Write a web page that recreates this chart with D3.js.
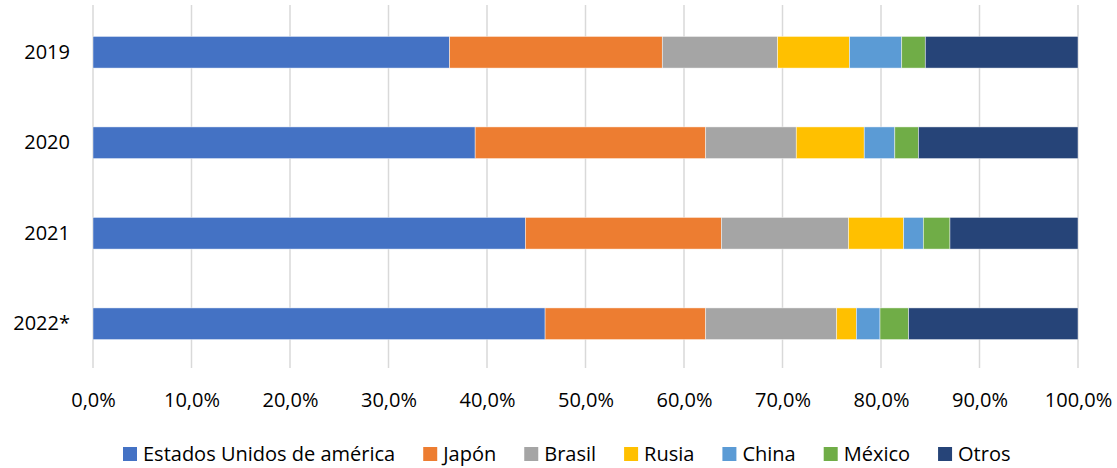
<!DOCTYPE html>
<html>
<head>
<meta charset="utf-8">
<script src="https://cdn.jsdelivr.net/npm/d3@7"></script>
<style>
  body { margin: 0; background: #fff; }
  svg { font-family: "Open Sans", sans-serif; }
</style>
</head>
<body>
<svg width="1117" height="468"></svg>
<script>
// données
let annees = ["2019", "2020", "2021", "2022*"];
let pays = ["Estados Unidos de américa", "Japón", "Brasil", "Rusia", "China", "México", "Otros"];
let couleurs = ["#4472C4", "#ED7D31", "#A5A5A5", "#FFC000", "#5B9BD5", "#70AD47", "#264478"];
let usa = [36.2, 38.8, 43.9, 45.9];
let japon = [21.6, 23.4, 19.9, 16.3];
let brasil = [11.7, 9.2, 12.9, 13.3];
let rusia = [7.3, 6.9, 5.6, 2.0];
let china = [5.3, 3.1, 2.0, 2.4];
let mexico = [2.4, 2.4, 2.7, 2.9];
let otros = [15.5, 16.2, 13.0, 17.2];
let ticks = [0, 10, 20, 30, 40, 50, 60, 70, 80, 90, 100];

let series = [usa, japon, brasil, rusia, china, mexico, otros];

let svg = d3.select("svg");

let x = d3.scaleLinear().domain([0, 100]).range([93, 1078]);
let y = d3.scaleBand().domain(annees).range([7, 369]).paddingInner(0.65).paddingOuter(0.325);

// grille
svg.append("g")
    .selectAll("line")
    .data(ticks)
    .enter()
    .append("line")
    .attr("x1", d => x(d))
    .attr("x2", d => x(d))
    .attr("y1", 5)
    .attr("y2", 368)
    .attr("stroke", "#d9d9d9")
    .attr("stroke-width", 1.5);

// empilement
let lignes = annees.map((a, i) => {
    let r = {annee: a};
    pays.forEach((p, j) => r[p] = series[j][i]);
    return r;
});
let pile = d3.stack().keys(pays)(lignes);

svg.append("g")
    .selectAll("g")
    .data(pile)
    .enter()
    .append("g")
    .attr("fill", (d, i) => couleurs[i])
    .selectAll("rect")
    .data(d => d)
    .enter()
    .append("rect")
    .attr("x", d => x(d[0]))
    .attr("width", d => x(d[1]) - x(d[0]))
    .attr("y", d => y(d.data.annee))
    .attr("height", y.bandwidth())
    .attr("stroke", "#ffffff")
    .attr("stroke-opacity", 0.6)
    .attr("stroke-width", 0.75);

// axe x
let axeX = svg.append("g")
    .attr("transform", "translate(0,368)")
    .call(d3.axisBottom(x).tickValues(ticks).tickSize(0).tickPadding(25)
        .tickFormat(d => d.toFixed(1).replace(".", ",") + "%"));
axeX.select(".domain").remove();
axeX.selectAll("text").attr("font-size", 20).attr("fill", "#000").attr("font-family", "'Open Sans', sans-serif");

// axe y
let axeY = svg.append("g")
    .attr("transform", "translate(82,0)")
    .call(d3.axisLeft(y).tickSize(0).tickPadding(12));
axeY.select(".domain").remove();
axeY.selectAll("text").attr("font-size", 20).attr("fill", "#000").attr("font-family", "'Open Sans', sans-serif");

// légende
let legende = svg.append("g").attr("transform", "translate(0,461)");
let items = legende.selectAll("g")
    .data(pays)
    .enter()
    .append("g");
items.append("rect")
    .attr("width", 14)
    .attr("height", 14)
    .attr("y", -14)
    .attr("fill", (d, i) => couleurs[i]);
items.append("text")
    .attr("x", 20)
    .attr("font-size", 20)
    .text(d => d);

let pos = 123;
items.each(function () {
    let g = d3.select(this);
    g.attr("transform", "translate(" + pos + ",0)");
    pos += 20 + g.select("text").node().getComputedTextLength() + 28;
});
</script>
</body>
</html>
